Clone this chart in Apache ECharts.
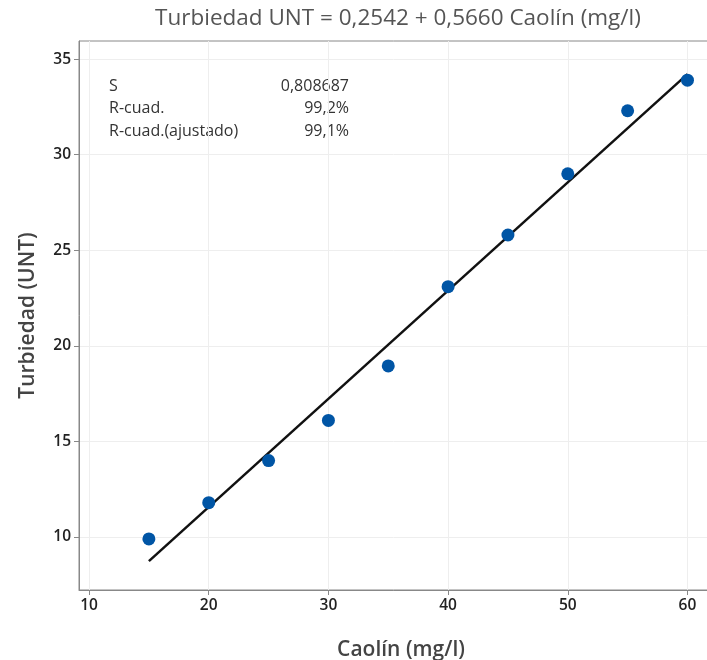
<!DOCTYPE html>
<html>
<head>
<meta charset="utf-8">
<script src="https://cdn.jsdelivr.net/npm/echarts@6/dist/echarts.min.js"></script>
<style>html,body{margin:0;padding:0;background:#fff}#c{width:707px;height:660px}</style>
</head>
<body>
<div id="c"></div>
<script>
const caolin = [15, 20, 25, 30, 35, 40, 45, 50, 55, 60];
const turbiedad = [9.9, 11.8, 14.0, 16.1, 18.95, 23.1, 25.8, 29.0, 32.3, 33.9];
const fitX = [15, 60];
const fitY = [8.744, 34.214];
const xTicks = [10, 20, 30, 40, 50, 60];
const yTicks = [10, 15, 20, 25, 30, 35];
const titleText = 'Turbiedad UNT = 0,2542 + 0,5660 Caolín (mg/l)';
const xName = 'Caolín (mg/l)';
const yName = 'Turbiedad (UNT)';
const statLabels = ['S', 'R-cuad.', 'R-cuad.(ajustado)'];
const statValues = ['0,808687', '99,2%', '99,1%'];

const font = '"Open Sans", "Noto Sans", sans-serif';
const chart = echarts.init(document.getElementById('c'));

const graphics = [];
statLabels.forEach((t, i) => {
  graphics.push({type: 'text', left: 109, top: 78 + i * 22.5,
    style: {text: t, font: '16px ' + font, fill: '#333'}});
  graphics.push({type: 'text', right: 707 - 349, top: 78 + i * 22.5,
    style: {text: statValues[i], font: '16px ' + font, fill: '#333', textAlign: 'right'}});
});

chart.setOption({
  animation: false,
  title: {text: titleText, left: 393, top: 2, textAlign: 'center',
    textStyle: {fontFamily: font, fontSize: 22.5, fontWeight: 'normal', color: '#555'}},
  grid: {left: 79, right: -2, top: 41, bottom: 70, show: true, borderColor: '#888', borderWidth: 1,
    outerBoundsMode: 'none', containLabel: false},
  xAxis: {
    type: 'value', min: 9.16, max: 61.8,
    name: xName, nameLocation: 'middle', nameGap: 50,
    nameTextStyle: {fontFamily: font, fontSize: 21, fontWeight: 600, color: '#444', padding: [0, 0, 0, 14]},
    axisLine: {show: true, lineStyle: {color: '#888'}},
    axisTick: {show: true, length: 5, lineStyle: {color: '#888'}, customValues: xTicks},
    axisLabel: {customValues: xTicks, fontFamily: font, fontSize: 15.5, fontWeight: 600, color: '#222', margin: 8},
    splitLine: {show: true, lineStyle: {color: '#eeeeee'}}
  },
  yAxis: {
    type: 'value', min: 7.23, max: 35.95,
    name: yName, nameLocation: 'middle', nameGap: 40,
    nameTextStyle: {fontFamily: font, fontSize: 21, fontWeight: 600, color: '#444'},
    axisLine: {show: true, lineStyle: {color: '#888'}},
    axisTick: {show: true, length: 5, lineStyle: {color: '#888'}, customValues: yTicks},
    axisLabel: {customValues: yTicks, fontFamily: font, fontSize: 15.5, fontWeight: 600, color: '#222', margin: 8},
    splitLine: {show: true, lineStyle: {color: '#eeeeee'}}
  },
  graphic: graphics,
  series: [
    {type: 'line', data: fitX.map((x, i) => [x, fitY[i]]), showSymbol: false,
      lineStyle: {color: '#111', width: 2.5}, z: 2},
    {type: 'scatter', data: caolin.map((x, i) => [x, turbiedad[i]]), symbolSize: 13,
      itemStyle: {color: '#0055a5', opacity: 1}, z: 3}
  ]
});
</script>
</body>
</html>
